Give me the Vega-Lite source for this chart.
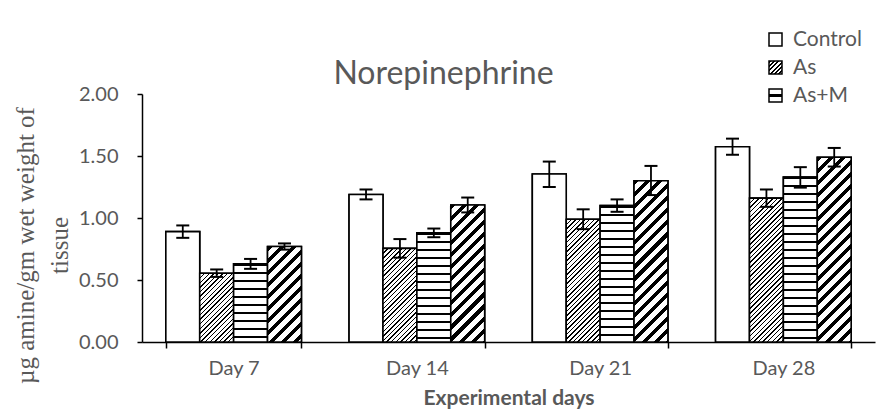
{
  "$schema": "https://vega.github.io/schema/vega-lite/v6.json",
  "width": 733,
  "height": 248,
  "autosize": {"type": "none"},
  "padding": {"left": 142, "top": 94, "right": 16, "bottom": 75},
  "background": "white",
  "config": {
    "view": {"stroke": null},
    "font": "Lato",
    "axisX": {
      "labelAngle": 0, "labelFont": "Lato", "labelFontSize": 20, "labelColor": "#595959", "labelPadding": 10,
      "domainColor": "#000", "domainWidth": 1.5, "tickColor": "#000", "tickWidth": 1.5, "tickSize": 6,
      "tickBand": "extent",
      "titleFont": "Lato", "titleFontSize": 21, "titleFontWeight": "bold", "titleColor": "#595959", "titlePadding": 9
    }
  },
  "params": [
    {"name": "legAs", "value": {"gradient": "linear", "x1": 0, "y1": 0, "x2": 1, "y2": 1, "stops": [
      {"offset":0,"color":"#000"},{"offset":0.09,"color":"#000"},{"offset":0.09,"color":"#fff"},{"offset":0.167,"color":"#fff"},
      {"offset":0.167,"color":"#000"},{"offset":0.257,"color":"#000"},{"offset":0.257,"color":"#fff"},{"offset":0.333,"color":"#fff"},
      {"offset":0.333,"color":"#000"},{"offset":0.423,"color":"#000"},{"offset":0.423,"color":"#fff"},{"offset":0.5,"color":"#fff"},
      {"offset":0.5,"color":"#000"},{"offset":0.59,"color":"#000"},{"offset":0.59,"color":"#fff"},{"offset":0.667,"color":"#fff"},
      {"offset":0.667,"color":"#000"},{"offset":0.757,"color":"#000"},{"offset":0.757,"color":"#fff"},{"offset":0.833,"color":"#fff"},
      {"offset":0.833,"color":"#000"},{"offset":0.923,"color":"#000"},{"offset":0.923,"color":"#fff"},{"offset":1,"color":"#fff"}
    ]}},
    {"name": "legAsM", "value": {"gradient": "linear", "x1": 0, "y1": 0, "x2": 0, "y2": 1, "stops": [
      {"offset":0,"color":"#fff"},{"offset":0.42,"color":"#fff"},{"offset":0.42,"color":"#000"},
      {"offset":0.58,"color":"#000"},{"offset":0.58,"color":"#fff"},{"offset":1,"color":"#fff"}
    ]}},
    {"name": "thinStops", "value": [
      {"offset":0,"color":"#000"},{"offset":0.008,"color":"#000"},{"offset":0.008,"color":"#fff"},{"offset":0.025,"color":"#fff"},
      {"offset":0.025,"color":"#000"},{"offset":0.033,"color":"#000"},{"offset":0.033,"color":"#fff"},{"offset":0.05,"color":"#fff"},
      {"offset":0.05,"color":"#000"},{"offset":0.058,"color":"#000"},{"offset":0.058,"color":"#fff"},{"offset":0.075,"color":"#fff"},
      {"offset":0.075,"color":"#000"},{"offset":0.083,"color":"#000"},{"offset":0.083,"color":"#fff"},{"offset":0.1,"color":"#fff"},
      {"offset":0.1,"color":"#000"},{"offset":0.108,"color":"#000"},{"offset":0.108,"color":"#fff"},{"offset":0.125,"color":"#fff"},
      {"offset":0.125,"color":"#000"},{"offset":0.133,"color":"#000"},{"offset":0.133,"color":"#fff"},{"offset":0.15,"color":"#fff"},
      {"offset":0.15,"color":"#000"},{"offset":0.158,"color":"#000"},{"offset":0.158,"color":"#fff"},{"offset":0.175,"color":"#fff"},
      {"offset":0.175,"color":"#000"},{"offset":0.183,"color":"#000"},{"offset":0.183,"color":"#fff"},{"offset":0.2,"color":"#fff"},
      {"offset":0.2,"color":"#000"},{"offset":0.208,"color":"#000"},{"offset":0.208,"color":"#fff"},{"offset":0.225,"color":"#fff"},
      {"offset":0.225,"color":"#000"},{"offset":0.233,"color":"#000"},{"offset":0.233,"color":"#fff"},{"offset":0.25,"color":"#fff"},
      {"offset":0.25,"color":"#000"},{"offset":0.258,"color":"#000"},{"offset":0.258,"color":"#fff"},{"offset":0.275,"color":"#fff"},
      {"offset":0.275,"color":"#000"},{"offset":0.283,"color":"#000"},{"offset":0.283,"color":"#fff"},{"offset":0.3,"color":"#fff"},
      {"offset":0.3,"color":"#000"},{"offset":0.308,"color":"#000"},{"offset":0.308,"color":"#fff"},{"offset":0.325,"color":"#fff"},
      {"offset":0.325,"color":"#000"},{"offset":0.333,"color":"#000"},{"offset":0.333,"color":"#fff"},{"offset":0.35,"color":"#fff"},
      {"offset":0.35,"color":"#000"},{"offset":0.358,"color":"#000"},{"offset":0.358,"color":"#fff"},{"offset":0.375,"color":"#fff"},
      {"offset":0.375,"color":"#000"},{"offset":0.383,"color":"#000"},{"offset":0.383,"color":"#fff"},{"offset":0.4,"color":"#fff"},
      {"offset":0.4,"color":"#000"},{"offset":0.408,"color":"#000"},{"offset":0.408,"color":"#fff"},{"offset":0.425,"color":"#fff"},
      {"offset":0.425,"color":"#000"},{"offset":0.433,"color":"#000"},{"offset":0.433,"color":"#fff"},{"offset":0.45,"color":"#fff"},
      {"offset":0.45,"color":"#000"},{"offset":0.458,"color":"#000"},{"offset":0.458,"color":"#fff"},{"offset":0.475,"color":"#fff"},
      {"offset":0.475,"color":"#000"},{"offset":0.483,"color":"#000"},{"offset":0.483,"color":"#fff"},{"offset":0.5,"color":"#fff"},
      {"offset":0.5,"color":"#000"},{"offset":0.508,"color":"#000"},{"offset":0.508,"color":"#fff"},{"offset":0.525,"color":"#fff"},
      {"offset":0.525,"color":"#000"},{"offset":0.533,"color":"#000"},{"offset":0.533,"color":"#fff"},{"offset":0.55,"color":"#fff"},
      {"offset":0.55,"color":"#000"},{"offset":0.558,"color":"#000"},{"offset":0.558,"color":"#fff"},{"offset":0.575,"color":"#fff"},
      {"offset":0.575,"color":"#000"},{"offset":0.583,"color":"#000"},{"offset":0.583,"color":"#fff"},{"offset":0.6,"color":"#fff"},
      {"offset":0.6,"color":"#000"},{"offset":0.608,"color":"#000"},{"offset":0.608,"color":"#fff"},{"offset":0.625,"color":"#fff"},
      {"offset":0.625,"color":"#000"},{"offset":0.633,"color":"#000"},{"offset":0.633,"color":"#fff"},{"offset":0.65,"color":"#fff"},
      {"offset":0.65,"color":"#000"},{"offset":0.658,"color":"#000"},{"offset":0.658,"color":"#fff"},{"offset":0.675,"color":"#fff"},
      {"offset":0.675,"color":"#000"},{"offset":0.683,"color":"#000"},{"offset":0.683,"color":"#fff"},{"offset":0.7,"color":"#fff"},
      {"offset":0.7,"color":"#000"},{"offset":0.708,"color":"#000"},{"offset":0.708,"color":"#fff"},{"offset":0.725,"color":"#fff"},
      {"offset":0.725,"color":"#000"},{"offset":0.733,"color":"#000"},{"offset":0.733,"color":"#fff"},{"offset":0.75,"color":"#fff"},
      {"offset":0.75,"color":"#000"},{"offset":0.758,"color":"#000"},{"offset":0.758,"color":"#fff"},{"offset":0.775,"color":"#fff"},
      {"offset":0.775,"color":"#000"},{"offset":0.783,"color":"#000"},{"offset":0.783,"color":"#fff"},{"offset":0.8,"color":"#fff"},
      {"offset":0.8,"color":"#000"},{"offset":0.808,"color":"#000"},{"offset":0.808,"color":"#fff"},{"offset":0.825,"color":"#fff"},
      {"offset":0.825,"color":"#000"},{"offset":0.833,"color":"#000"},{"offset":0.833,"color":"#fff"},{"offset":0.85,"color":"#fff"},
      {"offset":0.85,"color":"#000"},{"offset":0.858,"color":"#000"},{"offset":0.858,"color":"#fff"},{"offset":0.875,"color":"#fff"},
      {"offset":0.875,"color":"#000"},{"offset":0.883,"color":"#000"},{"offset":0.883,"color":"#fff"},{"offset":0.9,"color":"#fff"},
      {"offset":0.9,"color":"#000"},{"offset":0.908,"color":"#000"},{"offset":0.908,"color":"#fff"},{"offset":0.925,"color":"#fff"},
      {"offset":0.925,"color":"#000"},{"offset":0.933,"color":"#000"},{"offset":0.933,"color":"#fff"},{"offset":0.95,"color":"#fff"},
      {"offset":0.95,"color":"#000"},{"offset":0.958,"color":"#000"},{"offset":0.958,"color":"#fff"},{"offset":0.975,"color":"#fff"},
      {"offset":0.975,"color":"#000"},{"offset":0.983,"color":"#000"},{"offset":0.983,"color":"#fff"},{"offset":1,"color":"#fff"}
    ]},
    {"name": "thickStops", "value": [
      {"offset":0,"color":"#000"},{"offset":0.021,"color":"#000"},{"offset":0.021,"color":"#fff"},{"offset":0.05,"color":"#fff"},
      {"offset":0.05,"color":"#000"},{"offset":0.071,"color":"#000"},{"offset":0.071,"color":"#fff"},{"offset":0.1,"color":"#fff"},
      {"offset":0.1,"color":"#000"},{"offset":0.121,"color":"#000"},{"offset":0.121,"color":"#fff"},{"offset":0.15,"color":"#fff"},
      {"offset":0.15,"color":"#000"},{"offset":0.171,"color":"#000"},{"offset":0.171,"color":"#fff"},{"offset":0.2,"color":"#fff"},
      {"offset":0.2,"color":"#000"},{"offset":0.221,"color":"#000"},{"offset":0.221,"color":"#fff"},{"offset":0.25,"color":"#fff"},
      {"offset":0.25,"color":"#000"},{"offset":0.271,"color":"#000"},{"offset":0.271,"color":"#fff"},{"offset":0.3,"color":"#fff"},
      {"offset":0.3,"color":"#000"},{"offset":0.321,"color":"#000"},{"offset":0.321,"color":"#fff"},{"offset":0.35,"color":"#fff"},
      {"offset":0.35,"color":"#000"},{"offset":0.371,"color":"#000"},{"offset":0.371,"color":"#fff"},{"offset":0.4,"color":"#fff"},
      {"offset":0.4,"color":"#000"},{"offset":0.421,"color":"#000"},{"offset":0.421,"color":"#fff"},{"offset":0.45,"color":"#fff"},
      {"offset":0.45,"color":"#000"},{"offset":0.471,"color":"#000"},{"offset":0.471,"color":"#fff"},{"offset":0.5,"color":"#fff"},
      {"offset":0.5,"color":"#000"},{"offset":0.521,"color":"#000"},{"offset":0.521,"color":"#fff"},{"offset":0.55,"color":"#fff"},
      {"offset":0.55,"color":"#000"},{"offset":0.571,"color":"#000"},{"offset":0.571,"color":"#fff"},{"offset":0.6,"color":"#fff"},
      {"offset":0.6,"color":"#000"},{"offset":0.621,"color":"#000"},{"offset":0.621,"color":"#fff"},{"offset":0.65,"color":"#fff"},
      {"offset":0.65,"color":"#000"},{"offset":0.671,"color":"#000"},{"offset":0.671,"color":"#fff"},{"offset":0.7,"color":"#fff"},
      {"offset":0.7,"color":"#000"},{"offset":0.721,"color":"#000"},{"offset":0.721,"color":"#fff"},{"offset":0.75,"color":"#fff"},
      {"offset":0.75,"color":"#000"},{"offset":0.771,"color":"#000"},{"offset":0.771,"color":"#fff"},{"offset":0.8,"color":"#fff"},
      {"offset":0.8,"color":"#000"},{"offset":0.821,"color":"#000"},{"offset":0.821,"color":"#fff"},{"offset":0.85,"color":"#fff"},
      {"offset":0.85,"color":"#000"},{"offset":0.871,"color":"#000"},{"offset":0.871,"color":"#fff"},{"offset":0.9,"color":"#fff"},
      {"offset":0.9,"color":"#000"},{"offset":0.921,"color":"#000"},{"offset":0.921,"color":"#fff"},{"offset":0.95,"color":"#fff"},
      {"offset":0.95,"color":"#000"},{"offset":0.971,"color":"#000"},{"offset":0.971,"color":"#fff"},{"offset":1,"color":"#fff"}
    ]},
    {"name": "hStops", "value": [
      {"offset":0,"color":"#000"},{"offset":0.01,"color":"#000"},{"offset":0.01,"color":"#fff"},{"offset":0.04,"color":"#fff"},
      {"offset":0.04,"color":"#000"},{"offset":0.05,"color":"#000"},{"offset":0.05,"color":"#fff"},{"offset":0.08,"color":"#fff"},
      {"offset":0.08,"color":"#000"},{"offset":0.09,"color":"#000"},{"offset":0.09,"color":"#fff"},{"offset":0.12,"color":"#fff"},
      {"offset":0.12,"color":"#000"},{"offset":0.13,"color":"#000"},{"offset":0.13,"color":"#fff"},{"offset":0.16,"color":"#fff"},
      {"offset":0.16,"color":"#000"},{"offset":0.17,"color":"#000"},{"offset":0.17,"color":"#fff"},{"offset":0.2,"color":"#fff"},
      {"offset":0.2,"color":"#000"},{"offset":0.21,"color":"#000"},{"offset":0.21,"color":"#fff"},{"offset":0.24,"color":"#fff"},
      {"offset":0.24,"color":"#000"},{"offset":0.25,"color":"#000"},{"offset":0.25,"color":"#fff"},{"offset":0.28,"color":"#fff"},
      {"offset":0.28,"color":"#000"},{"offset":0.29,"color":"#000"},{"offset":0.29,"color":"#fff"},{"offset":0.32,"color":"#fff"},
      {"offset":0.32,"color":"#000"},{"offset":0.33,"color":"#000"},{"offset":0.33,"color":"#fff"},{"offset":0.36,"color":"#fff"},
      {"offset":0.36,"color":"#000"},{"offset":0.37,"color":"#000"},{"offset":0.37,"color":"#fff"},{"offset":0.4,"color":"#fff"},
      {"offset":0.4,"color":"#000"},{"offset":0.41,"color":"#000"},{"offset":0.41,"color":"#fff"},{"offset":0.44,"color":"#fff"},
      {"offset":0.44,"color":"#000"},{"offset":0.45,"color":"#000"},{"offset":0.45,"color":"#fff"},{"offset":0.48,"color":"#fff"},
      {"offset":0.48,"color":"#000"},{"offset":0.49,"color":"#000"},{"offset":0.49,"color":"#fff"},{"offset":0.52,"color":"#fff"},
      {"offset":0.52,"color":"#000"},{"offset":0.53,"color":"#000"},{"offset":0.53,"color":"#fff"},{"offset":0.56,"color":"#fff"},
      {"offset":0.56,"color":"#000"},{"offset":0.57,"color":"#000"},{"offset":0.57,"color":"#fff"},{"offset":0.6,"color":"#fff"},
      {"offset":0.6,"color":"#000"},{"offset":0.61,"color":"#000"},{"offset":0.61,"color":"#fff"},{"offset":0.64,"color":"#fff"},
      {"offset":0.64,"color":"#000"},{"offset":0.65,"color":"#000"},{"offset":0.65,"color":"#fff"},{"offset":0.68,"color":"#fff"},
      {"offset":0.68,"color":"#000"},{"offset":0.69,"color":"#000"},{"offset":0.69,"color":"#fff"},{"offset":0.72,"color":"#fff"},
      {"offset":0.72,"color":"#000"},{"offset":0.73,"color":"#000"},{"offset":0.73,"color":"#fff"},{"offset":0.76,"color":"#fff"},
      {"offset":0.76,"color":"#000"},{"offset":0.77,"color":"#000"},{"offset":0.77,"color":"#fff"},{"offset":0.8,"color":"#fff"},
      {"offset":0.8,"color":"#000"},{"offset":0.81,"color":"#000"},{"offset":0.81,"color":"#fff"},{"offset":0.84,"color":"#fff"},
      {"offset":0.84,"color":"#000"},{"offset":0.85,"color":"#000"},{"offset":0.85,"color":"#fff"},{"offset":0.88,"color":"#fff"},
      {"offset":0.88,"color":"#000"},{"offset":0.89,"color":"#000"},{"offset":0.89,"color":"#fff"},{"offset":0.92,"color":"#fff"},
      {"offset":0.92,"color":"#000"},{"offset":0.93,"color":"#000"},{"offset":0.93,"color":"#fff"},{"offset":0.96,"color":"#fff"},
      {"offset":0.96,"color":"#000"},{"offset":0.97,"color":"#000"},{"offset":0.97,"color":"#fff"},{"offset":1,"color":"#fff"}
    ]}
  ],
  "data": {"values": [
    {"day": "Day 7", "group": "Control", "value": 0.89, "lo": 0.84, "hi": 0.94},
    {"day": "Day 7", "group": "As", "value": 0.555, "lo": 0.525, "hi": 0.585},
    {"day": "Day 7", "group": "As+M", "value": 0.63, "lo": 0.59, "hi": 0.67},
    {"day": "Day 7", "group": "M", "value": 0.77, "lo": 0.745, "hi": 0.795},
    {"day": "Day 14", "group": "Control", "value": 1.19, "lo": 1.15, "hi": 1.23},
    {"day": "Day 14", "group": "As", "value": 0.755, "lo": 0.68, "hi": 0.83},
    {"day": "Day 14", "group": "As+M", "value": 0.88, "lo": 0.845, "hi": 0.915},
    {"day": "Day 14", "group": "M", "value": 1.105, "lo": 1.045, "hi": 1.165},
    {"day": "Day 21", "group": "Control", "value": 1.355, "lo": 1.25, "hi": 1.455},
    {"day": "Day 21", "group": "As", "value": 0.99, "lo": 0.91, "hi": 1.07},
    {"day": "Day 21", "group": "As+M", "value": 1.1, "lo": 1.05, "hi": 1.15},
    {"day": "Day 21", "group": "M", "value": 1.3, "lo": 1.185, "hi": 1.42},
    {"day": "Day 28", "group": "Control", "value": 1.575, "lo": 1.51, "hi": 1.64},
    {"day": "Day 28", "group": "As", "value": 1.16, "lo": 1.09, "hi": 1.23},
    {"day": "Day 28", "group": "As+M", "value": 1.33, "lo": 1.245, "hi": 1.41},
    {"day": "Day 28", "group": "M", "value": 1.49, "lo": 1.415, "hi": 1.565}
  ]},
  "title": {
    "text": "Norepinephrine",
    "font": "Lato", "fontSize": 32, "fontWeight": "normal", "color": "#595959",
    "anchor": "middle", "dx": -65, "dy": 97, "offset": 10, "baseline": "alphabetic"
  },
  "encoding": {
    "x": {
      "field": "day", "type": "nominal",
      "sort": ["Day 7", "Day 14", "Day 21", "Day 28"],
      "scale": {"paddingInner": 0.26, "paddingOuter": 0.13},
      "title": "Experimental days"
    },
    "xOffset": {
      "field": "group", "type": "nominal",
      "sort": ["Control", "As", "As+M", "M"],
      "scale": {"paddingInner": 0, "paddingOuter": 0}
    }
  },
  "layer": [
    {
      "mark": {"type": "bar", "stroke": "#000", "strokeWidth": 1.6, "opacity": 1},
      "encoding": {
        "y": {
          "field": "value", "type": "quantitative", "stack": null,
          "scale": {"domain": [0, 2], "nice": false},
          "title": ["µg amine/gm wet weight of", "tissue"],
          "axis": {
            "values": [0, 0.5, 1, 1.5, 2], "format": ".2f", "grid": false,
            "labelFont": "Lato", "labelFontSize": 20, "labelColor": "#595959", "labelPadding": 19,
            "domainColor": "#000", "domainWidth": 1.5, "tickColor": "#000", "tickWidth": 1.5, "tickSize": 5,
            "titleFont": "Liberation Serif", "titleFontSize": 25, "titleFontWeight": "normal", "titleColor": "#595959",
            "titleAngle": -90, "titleAlign": "center", "titleBaseline": "top", "titleLineHeight": 34,
            "titleX": -129, "titleY": 151
          }
        },
        "fill": {
          "field": "group", "type": "nominal",
          "sort": ["Control", "As", "As+M", "M"],
          "scale": {
            "domain": ["Control", "As", "As+M", "M"],
            "range": ["#ffffff", {"expr": "legAs"}, {"expr": "legAsM"}, "#000000"]
          },
          "legend": {
            "values": ["Control", "As", "As+M"], "title": null,
            "orient": "none", "legendX": 623, "legendY": -65,
            "symbolType": "square", "symbolSize": 169, "symbolStrokeColor": "#000", "symbolStrokeWidth": 1.5, "symbolOpacity": 1,
            "labelFont": "Lato", "labelFontSize": 21, "labelColor": "#595959", "labelOffset": 7, "rowPadding": 6
          }
        }
      }
    },
    {
      "mark": {
        "type": "bar", "stroke": "#000", "strokeWidth": 1.6, "opacity": 1,
        "fill": {"expr": "datum.group == 'Control' ? '#ffffff' : datum.group == 'As+M' ? {gradient: 'linear', x1: 0, y1: 0, x2: 0, y2: 200 / max(1, scale('y', 0) - scale('y', datum.value)), stops: hStops} : {gradient: 'linear', x1: 0, y1: 0, x2: (datum.group == 'As' ? 130 : 170) * 1.4142 * bandwidth('xOffset') / (pow(bandwidth('xOffset'), 2) + pow(scale('y', 0) - scale('y', datum.value), 2)), y2: (datum.group == 'As' ? 130 : 170) * 1.4142 * (scale('y', 0) - scale('y', datum.value)) / (pow(bandwidth('xOffset'), 2) + pow(scale('y', 0) - scale('y', datum.value), 2)), stops: datum.group == 'As' ? thinStops : thickStops}"}
      },
      "encoding": {
        "y": {"field": "value", "type": "quantitative", "stack": null, "title": ["µg amine/gm wet weight of", "tissue"]}
      }
    },
    {
      "mark": {"type": "rule", "color": "#000", "strokeWidth": 1.8, "opacity": 1},
      "encoding": {
        "y": {"field": "lo", "type": "quantitative", "title": ["µg amine/gm wet weight of", "tissue"]},
        "y2": {"field": "hi"}
      }
    },
    {
      "mark": {"type": "tick", "color": "#000", "size": 13, "thickness": 2, "opacity": 1},
      "encoding": {
        "y": {"field": "hi", "type": "quantitative", "title": ["µg amine/gm wet weight of", "tissue"]}
      }
    },
    {
      "mark": {"type": "tick", "color": "#000", "size": 13, "thickness": 2, "opacity": 1},
      "encoding": {
        "y": {"field": "lo", "type": "quantitative", "title": ["µg amine/gm wet weight of", "tissue"]}
      }
    }
  ]
}
